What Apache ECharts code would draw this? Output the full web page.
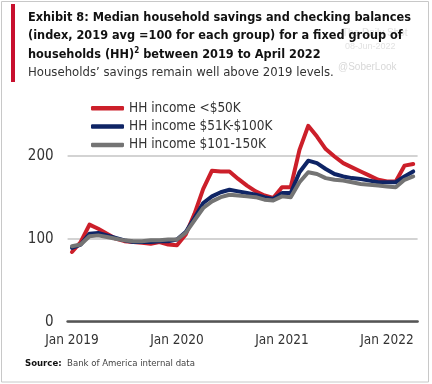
<!DOCTYPE html>
<html>
<head>
<meta charset="utf-8">
<script src="https://cdn.jsdelivr.net/npm/echarts@6/dist/echarts.min.js"></script>
<style>
html,body{margin:0;padding:0;background:#fff;}
#chart{width:432px;height:384px;}
</style>
</head>
<body>
<div id="chart"></div>
<script>
const months = [
 'Jan 2019','Feb 2019','Mar 2019','Apr 2019','May 2019','Jun 2019','Jul 2019','Aug 2019','Sep 2019','Oct 2019','Nov 2019','Dec 2019',
 'Jan 2020','Feb 2020','Mar 2020','Apr 2020','May 2020','Jun 2020','Jul 2020','Aug 2020','Sep 2020','Oct 2020','Nov 2020','Dec 2020',
 'Jan 2021','Feb 2021','Mar 2021','Apr 2021','May 2021','Jun 2021','Jul 2021','Aug 2021','Sep 2021','Oct 2021','Nov 2021','Dec 2021',
 'Jan 2022','Feb 2022','Mar 2022','Apr 2022'
];
const seriesNames = ['HH income <$50K', 'HH income $51K-$100K', 'HH income $101-150K'];
const lowIncome = [84,96,117,112,106,100,97,96,95,94,96,93,
                   92,105,130,160,182,181,181,172,164,157,152,149,
                   162,162,207,236,223,208,199,191,186,181,176,171,
                   169,169,188,190];
const midIncome = [89,93,106,107,104,101,98,96,96,96,97,97,
                   99,108,125,143,151,156,159,157,155,153,150,148,
                   155,155,180,194,191,184,178,175,173,172,170,168,
                   168,168,175,181];
const highIncome = [91,93,103,104,102,100,98,97,97,98,98,99,
                    99,107,122,137,145,150,153,152,151,150,147,146,
                    151,150,168,180,178,173,171,170,168,166,165,164,
                    163,162,171,175];
const yTicks = [0, 100, 200];

const NARROW = "'Liberation Sans Narrow', 'DejaVu Sans Condensed', 'Roboto', sans-serif";
const colors = ['#CC1F2A', '#0E2465', '#747474'];

const chart = echarts.init(document.getElementById('chart'), null, {renderer: 'canvas'});
chart.setOption({
  animation: false,
  backgroundColor: '#fff',
  color: colors,
  title: [{
    left: 28, top: 8, padding: 0,
    text: 'Exhibit 8: Median household savings and checking balances\n(index, 2019 avg =100 for each group) for a fixed group of\nhouseholds (HH){sup|2} between 2019 to April 2022',
    textStyle: {
      fontFamily: NARROW, fontSize: 12.6, fontWeight: 'bold', color: '#111', lineHeight: 18.5,
      rich: { sup: { fontSize: 8, fontWeight: 'bold', color: '#111', lineHeight: 18.5, padding: [0,0,7,0], fontFamily: NARROW } }
    }
  }, {
    left: 28, top: 63, padding: 0,
    text: 'Households\u2019 savings remain well above 2019 levels.',
    textStyle: { fontFamily: NARROW, fontSize: 13, fontWeight: 'normal', color: '#333', lineHeight: 18.5 }
  }],
  legend: {
    orient: 'vertical', left: 91, top: 99.3, padding: 0,
    icon: 'roundRect',
    itemWidth: 33, itemHeight: 4.5, itemGap: 0.3,
    data: seriesNames,
    textStyle: { fontFamily: NARROW, fontSize: 13.5, color: '#333', lineHeight: 18 }
  },
  grid: { left: 67.6, width: 350, top: 114.2, height: 207.5, outerBoundsMode: 'none' },
  xAxis: {
    type: 'category', data: months, boundaryGap: true,
    axisLine: { lineStyle: { color: '#555', width: 2.5 } },
    axisTick: { show: false },
    axisLabel: {
      interval: function (i) { return i % 12 === 0; },
      fontFamily: NARROW, fontSize: 13.5, color: '#333', margin: 12
    }
  },
  yAxis: {
    type: 'value', min: 0, max: 250, interval: 50,
    axisLine: { show: false }, axisTick: { show: false },
    axisLabel: {
      fontFamily: NARROW, fontSize: 15, color: '#333', margin: 14,
      formatter: function (v) { return yTicks.indexOf(v) >= 0 ? String(v) : ''; }
    },
    splitLine: { lineStyle: { color: ['#c4c4c4', 'rgba(0,0,0,0)'], width: 1.5 } }
  },
  series: [
    { name: seriesNames[0], type: 'line', data: lowIncome, symbol: 'none', lineStyle: { width: 4, cap: 'round', join: 'round' } },
    { name: seriesNames[1], type: 'line', data: midIncome, symbol: 'none', lineStyle: { width: 4, cap: 'round', join: 'round' } },
    { name: seriesNames[2], type: 'line', data: highIncome, symbol: 'none', lineStyle: { width: 4, cap: 'round', join: 'round' } }
  ],
  graphic: [
    { type: 'rect', silent: true, shape: { x: 1.5, y: 1.5, width: 427, height: 380.5 }, style: { fill: 'none', stroke: '#c8c8c8', lineWidth: 1 } },
    { type: 'rect', silent: true, shape: { x: 11, y: 4, width: 4, height: 78 }, style: { fill: '#C8102E' } },
    { type: 'text', silent: true, left: 342, top: 28, style: { text: 'The Daily Shot', fontSize: 10, fontFamily: 'Liberation Sans', fill: '#e2e2e2' } },
    { type: 'text', silent: true, left: 345, top: 42, style: { text: '08-Jun-2022', fontSize: 9, fontFamily: 'Liberation Sans', fill: '#e2e2e2' } },
    { type: 'text', silent: true, left: 338, top: 62, style: { text: '@SoberLook', fontSize: 10, fontFamily: 'Liberation Sans', fill: '#d8d8d8' } },
    { type: 'text', silent: true, left: 25, top: 359, style: {
        text: '{b|Source:}  Bank of America internal data',
        fontFamily: NARROW, fontSize: 9.5, fill: '#444',
        rich: { b: { fontFamily: NARROW, fontSize: 9.5, fontWeight: 'bold', fill: '#111' } }
      } }
  ]
});
</script>
</body>
</html>
